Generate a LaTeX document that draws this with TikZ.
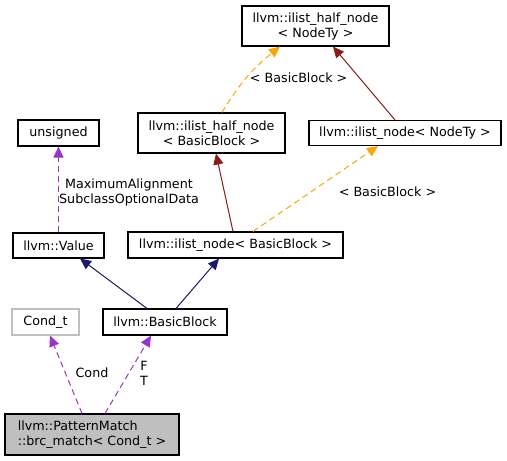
\documentclass[tikz,border=0pt]{standalone}
\usepackage{fontspec}
\setmainfont{DejaVu Sans}
\usetikzlibrary{positioning}
\usetikzlibrary{arrows.meta}
\definecolor{pubblue}{RGB}{25,25,112}
\definecolor{privred}{RGB}{139,26,26}
\definecolor{usepurple}{RGB}{154,50,205}
\definecolor{tmplorange}{RGB}{255,165,0}
\definecolor{boxgray}{RGB}{191,191,191}

\begin{document}
\begin{tikzpicture}[x=1pt,y=-1pt,on grid,>={Triangle[length=11pt,width=10pt]},
		cls/.style={rectangle,draw=black,line width=1.1pt,inner sep=2pt,align=center,font=\fontsize{12.7}{15}\selectfont},
		lbl/.style={align=center,inner sep=0pt,font=\fontsize{12.7}{15}\selectfont},
		pubinh/.style={->,draw=pubblue,line width=1pt},
		privinh/.style={->,draw=privred,line width=1pt},
		usage/.style={->,draw=usepurple,line width=1pt,dash pattern=on 6pt off 4pt},
		tmpl/.style={->,draw=tmplorange,line width=1pt,dash pattern=on 6pt off 4pt}]
		\useasboundingbox (0,0) rectangle (507,461);
		
		\node[cls,fill=boxgray,align=left,minimum width=174pt,minimum height=41pt] (brc) at (92,434.5) {llvm::PatternMatch\\::brc\_match< Cond\_t >};
		\node[cls,draw=boxgray,minimum width=67pt,minimum height=26pt] (cond) [above left=112.5pt and 46.5pt of brc] {Cond\_t};
		\node[cls,minimum width=124pt,minimum height=26pt] (bb) [above right=112.5pt and 73pt of brc] {llvm::BasicBlock};
		\node[cls,minimum width=91pt,minimum height=25pt] (value) [above right=76.5pt and 13pt of cond] {llvm::Value};
		\node[cls,minimum width=81pt,minimum height=26pt] (unsigned) [above=112.5pt of value] {unsigned};
		\node[cls,minimum width=215pt,minimum height=26pt] (inBB) [above right=77pt and 70.5pt of bb] {llvm::ilist\_node< BasicBlock >};
		\node[cls,minimum width=147pt,minimum height=40pt] (hnBB) [above left=112pt and 24pt of inBB] {llvm::ilist\_half\_node\\< BasicBlock >};
		\node[cls,minimum width=192pt,minimum height=25pt] (inNT) [right=193.5pt of hnBB] {llvm::ilist\_node< NodeTy >};
		\node[cls,minimum width=147pt,minimum height=40pt] (hnNT) [above right=107pt and 104pt of hnBB] {llvm::ilist\_half\_node\\< NodeTy >};
		
		\path
		([xshift=-10pt]brc.north) edge[usage] node[lbl,xshift=26pt,yshift=1.5pt]{Cond} ([xshift=4.5pt]cond.south)
		([xshift=13pt]brc.north) edge[usage] node[lbl,xshift=16pt,yshift=1.5pt]{F\\T} ([xshift=-14pt]bb.south)
		([xshift=-18pt]bb.north) edge[pubinh] ([xshift=21.5pt]value.south)
		([xshift=11pt]bb.north) edge[pubinh] ([xshift=-16.5pt]inBB.south)
		(value.north) edge[usage] node[lbl,xshift=70.5pt,yshift=-3pt]{MaximumAlignment\\SubclassOptionalData} (unsigned.south)
		([xshift=-2.5pt]inBB.north) edge[privinh] ([xshift=4.5pt]hnBB.south)
		([xshift=17.5pt]inBB.north) edge[tmpl] node[lbl,xshift=72pt,yshift=-3pt]{< BasicBlock >} ([xshift=-27pt]inNT.south)
		([xshift=10.5pt]hnBB.north) edge[tmpl,bend left=10] node[lbl,xshift=51pt,yshift=-1pt]{< BasicBlock >} ([xshift=-35.5pt]hnNT.south)
		([xshift=-10pt]inNT.north) edge[privinh] ([xshift=17.5pt]hnNT.south);
\end{tikzpicture}
\end{document}
